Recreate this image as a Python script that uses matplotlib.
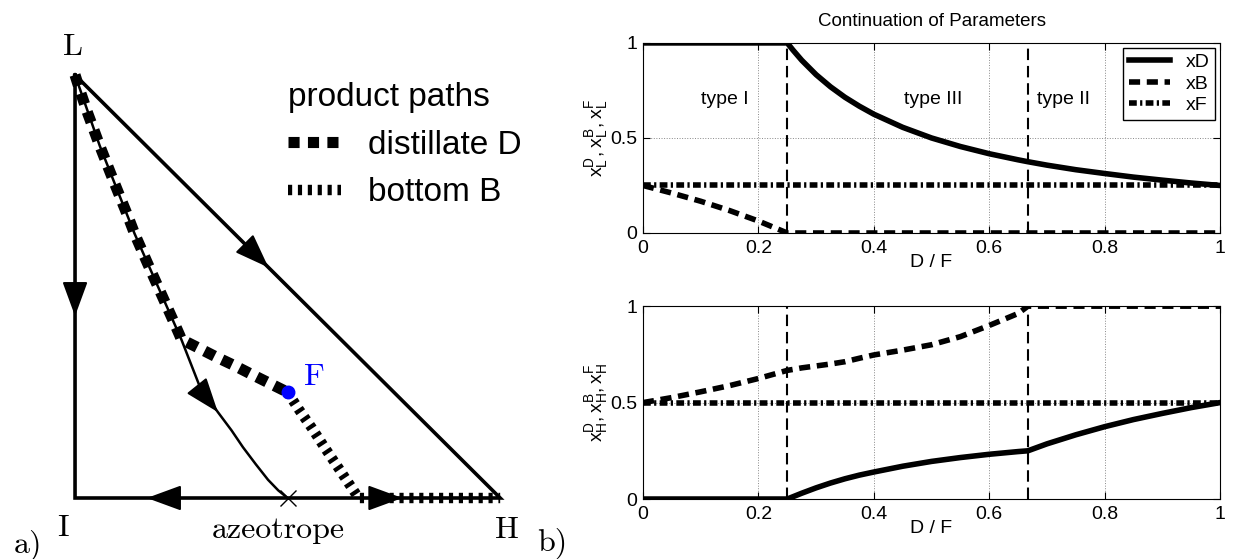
import matplotlib
matplotlib.use('Agg')
import matplotlib.pyplot as plt

# D/F values and compositions
d_over_f = [0, 0.05, 0.1, 0.15, 0.2, 0.25, 0.26, 0.275, 0.3, 0.325, 0.35, 0.375, 0.4,
            0.45, 0.5, 0.55, 0.6, 0.65, 0.667, 0.7, 0.75, 0.8, 0.85, 0.9, 0.95, 1.0]
xD_L = [1, 1, 1, 1, 1, 1, 0.962, 0.909, 0.833, 0.769, 0.714, 0.667, 0.625,
        0.556, 0.5, 0.455, 0.417, 0.385, 0.375, 0.357, 0.333, 0.313, 0.294, 0.278, 0.263, 0.25]
xB_L = [0.25, 0.21, 0.167, 0.118, 0.063, 0, 0, 0, 0, 0, 0, 0, 0,
        0, 0, 0, 0, 0, 0, 0, 0, 0, 0, 0, 0, 0]
xF_L = [0.25] * 26
xD_H = [0, 0, 0, 0, 0, 0, 0.012, 0.03, 0.058, 0.083, 0.105, 0.124, 0.14,
        0.17, 0.195, 0.215, 0.232, 0.246, 0.25, 0.286, 0.333, 0.375, 0.412, 0.444, 0.474, 0.5]
xB_H = [0.5, 0.526, 0.556, 0.588, 0.625, 0.667, 0.672, 0.68, 0.69, 0.70, 0.712, 0.73, 0.747,
        0.772, 0.8, 0.842, 0.9, 0.962, 1.0, 1, 1, 1, 1, 1, 1, 1]
xF_H = [0.5] * 26

# region borders (type I | type III | type II)
region_borders = [0.25, 0.667]
region_names = ['type I', 'type III', 'type II']
region_centers = [0.141, 0.503, 0.728]

# ternary diagram (x = x_H, y = x_L), I at origin
triangle_H = [0, 0, 1, 0]
triangle_L = [1, 0, 0, 1]
boundary_H = [0, 0.058, 0.14, 0.195, 0.25, 0.294, 0.336, 0.368, 0.395, 0.425, 0.454, 0.478, 0.5]
boundary_L = [1, 0.833, 0.625, 0.5, 0.375, 0.262, 0.203, 0.16, 0.12, 0.08, 0.043, 0.018, 0]
feed = (0.5, 0.25)
azeotrope = (0.5, 0)
# arrows on the lines: (base, tip)
arrows = [((0, 0.50), (0, 0.43)),
          ((0.385, 0.615), (0.455, 0.545)),
          ((0.289, 0.262), (0.336, 0.203)),
          ((0.25, 0), (0.169, 0)),
          ((0.70, 0), (0.77, 0))]

xticks = [0, 0.2, 0.4, 0.6, 0.8, 1]
xtick_labels = ['0', '0.2', '0.4', '0.6', '0.8', '1']
yticks = [0, 0.5, 1]
ytick_labels = ['0', '0.5', '1']

plt.rcParams['font.family'] = ['Liberation Sans', 'DejaVu Sans']
plt.rcParams['mathtext.default'] = 'regular'

fig = plt.figure(figsize=(12.33, 5.59), dpi=100)

# ---------- a) ternary diagram ----------
axL = fig.add_axes([0, 0, 0.46, 1])
axL.set_xlim(-0.1765, 1.1576)
axL.set_ylim(-0.1442, 1.1773)
axL.axis('off')

axL.plot(triangle_H, triangle_L, color='k', lw=2.6, solid_joinstyle='miter')
axL.plot(boundary_H, boundary_L, color='k', lw=1.8)

i0 = d_over_f.index(0.25)
i1 = d_over_f.index(0.667)
d_line, = axL.plot(xD_H[i0:], xD_L[i0:], color='k', lw=8, dashes=(1.0, 0.75), zorder=4)
b_line, = axL.plot(xB_H[:i1 + 1] + [1], xB_L[:i1 + 1] + [0], color='k', lw=7.5,
                   dashes=(0.4, 0.55), zorder=4)
axL.plot(*azeotrope, marker='x', color='k', markersize=12, mew=1, zorder=5)
axL.plot(*feed, marker='o', color='#0000ff', markersize=9, zorder=5)

for base, tip in arrows:
    axL.annotate('', xy=tip, xytext=base,
                 arrowprops=dict(arrowstyle='-|>,head_length=0.6,head_width=0.22',
                                 mutation_scale=36, color='k', lw=1.5,
                                 shrinkA=0, shrinkB=0), zorder=6)

serif = dict(fontfamily='cmr10', fontsize=23, ha='center', va='center')
axL.text(-0.005, 1.065, 'L', **serif)
axL.text(-0.028, -0.071, 'I', **serif)
axL.text(1.016, -0.076, 'H', **serif)
axL.text(0.478, -0.076, 'azeotrope', **serif)
axL.text(-0.11, -0.111, 'a)', **serif)
axL.text(0.562, 0.285, 'F', color='#0000ff', **serif)
fig.text(552 / 1233, 1 - 543 / 559, 'b)', **serif)

axL.legend([d_line, b_line], ['distillate D', 'bottom B'], title='product paths',
           loc='upper left', bbox_to_anchor=(288 / 567, 1 - 82 / 559),
           frameon=False, fontsize=24, title_fontsize=24, alignment='left',
           handlelength=1.6, handletextpad=0.8, labelspacing=0.5,
           borderpad=0, borderaxespad=0)

# ---------- b) continuation plots ----------
axT = fig.add_axes([0.5215, 0.5832, 0.468, 0.340])
axB = fig.add_axes([0.5215, 0.1073, 0.468, 0.345])


def style_axes(ax, ylabel):
    ax.set_xlim(0, 1)
    ax.set_ylim(0, 1)
    ax.set_xticks(xticks)
    ax.set_xticklabels(xtick_labels)
    ax.set_yticks(yticks)
    ax.set_yticklabels(ytick_labels)
    ax.tick_params(direction='in', top=True, right=True, length=5, labelsize=14)
    ax.tick_params(axis='x', pad=5)
    ax.tick_params(axis='y', pad=4)
    ax.grid(True, linestyle=':', color='#888888', linewidth=0.7)
    ax.set_axisbelow(True)
    ax.set_xlabel('D / F', fontsize=14, labelpad=-2)
    ax.set_ylabel(ylabel, fontsize=14, labelpad=0)
    for b in region_borders:
        ax.axvline(b, color='k', lw=1.5, dashes=(5.5, 2.8))


for ax, xd, xb, xf, lab in [(axT, xD_L, xB_L, xF_L, r'$x_L^D, x_L^B, x_L^F$'),
                            (axB, xD_H, xB_H, xF_H, r'$x_H^D, x_H^B, x_H^F$')]:
    style_axes(ax, lab)
    ax.plot(d_over_f, xd, color='k', lw=4, label='xD')
    ax.plot(d_over_f, xb, color='k', lw=4, dashes=(2.0, 1.2), label='xB')
    ax.plot(d_over_f, xf, color='k', lw=4, dashes=(1.4, 0.6, 0.4, 0.6), label='xF')

for name, xc in zip(region_names, region_centers):
    axT.text(xc, 0.70, name, fontsize=14, ha='center', va='center')

axT.set_title('Continuation of Parameters', fontsize=13.5, pad=12)
leg = axT.legend(loc='upper right', fontsize=14, fancybox=False, edgecolor='k',
                 framealpha=1, handlelength=2.1, labelspacing=0.2,
                 borderaxespad=0.25, borderpad=0.3)
leg.get_frame().set_linewidth(1)

fig.savefig('out.png', dpi=100)
